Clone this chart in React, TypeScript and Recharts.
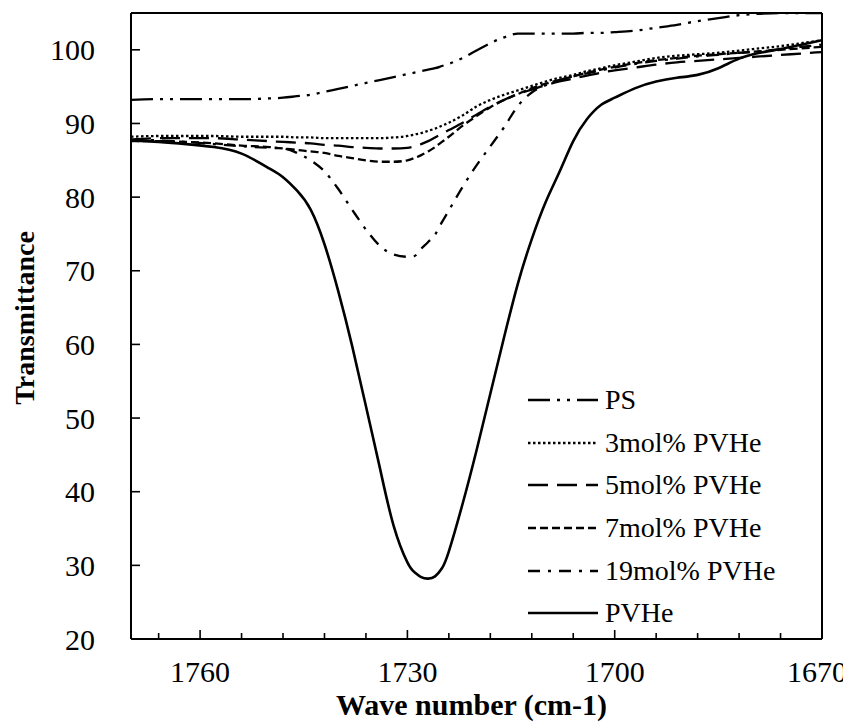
import React from "react";
import { LineChart, Line, XAxis, YAxis, ReferenceLine, Legend, Label } from "recharts";

const waveNumbers = [1770, 1766, 1762, 1758, 1754, 1750, 1748, 1746, 1744, 1742, 1740, 1738, 1736, 1734, 1732, 1730, 1729, 1728, 1727, 1726, 1725, 1724, 1722, 1720, 1718, 1716, 1714, 1712, 1710, 1708, 1706, 1704, 1702, 1700, 1697, 1694, 1691, 1688, 1685, 1682, 1679, 1676, 1673, 1670];

const psValues = [93.2, 93.3, 93.3, 93.3, 93.3, 93.4, 93.5, 93.7, 93.9, 94.3, 94.7, 95.1, 95.5, 95.9, 96.3, 96.7, 96.9, 97.1, 97.3, 97.5, 97.8, 98.1, 98.9, 99.9, 100.9, 101.7, 102.2, 102.2, 102.2, 102.2, 102.2, 102.3, 102.3, 102.4, 102.6, 103.0, 103.4, 103.9, 104.3, 104.7, 104.9, 105, 105, 105];
const mol3Values = [88.2, 88.3, 88.3, 88.3, 88.2, 88.2, 88.2, 88.1, 88.1, 88.0, 88.0, 88.0, 88.0, 88.0, 88.1, 88.3, 88.5, 88.7, 89.0, 89.3, 89.7, 90.1, 91.1, 92.3, 93.2, 93.9, 94.5, 95.1, 95.7, 96.2, 96.6, 97.1, 97.5, 97.9, 98.4, 98.9, 99.2, 99.4, 99.6, 99.9, 100.2, 100.5, 100.9, 101.3];
const mol5Values = [87.8, 88.0, 88.0, 88.0, 87.8, 87.6, 87.5, 87.4, 87.3, 87.1, 87.0, 86.8, 86.7, 86.6, 86.6, 86.7, 86.9, 87.2, 87.6, 88.1, 88.6, 89.1, 90.1, 91.2, 92.3, 93.2, 94.0, 94.6, 95.2, 95.7, 96.1, 96.5, 96.9, 97.2, 97.6, 98.0, 98.3, 98.5, 98.7, 98.9, 99.1, 99.3, 99.5, 99.7];
const mol7Values = [87.6, 87.6, 87.5, 87.3, 87.0, 86.8, 86.6, 86.4, 86.2, 86.0, 85.6, 85.3, 85.0, 84.8, 84.8, 85.0, 85.3, 85.7, 86.2, 86.8, 87.5, 88.2, 89.7, 91.0, 92.2, 93.2, 94.0, 94.8, 95.4, 95.9, 96.4, 96.9, 97.3, 97.7, 98.2, 98.6, 98.9, 99.2, 99.4, 99.6, 99.8, 100.0, 100.2, 100.4];
const mol19Values = [87.8, 87.7, 87.5, 87.2, 86.9, 86.7, 86.6, 86.0, 85.0, 83.5, 81.1, 78.3, 75.6, 73.4, 72.2, 71.9, 72.0, 73.0, 73.9, 74.9, 76.6, 78.2, 81.4, 84.3, 86.9, 89.5, 92.4, 94.2, 95.2, 95.9, 96.4, 96.8, 97.2, 97.6, 98.1, 98.5, 98.8, 99.1, 99.3, 99.6, 99.8, 100.1, 100.4, 100.7];
const pvheValues = [87.7, 87.5, 87.2, 86.8, 85.9, 83.9, 82.7, 80.9, 78.3, 73.6, 67.2, 59.8, 51.6, 43.3, 35.4, 30.4, 29.1, 28.4, 28.2, 28.5, 29.6, 31.9, 38.4, 45.6, 53.3, 61.0, 68.3, 74.3, 79.3, 83.4, 87.6, 90.6, 92.5, 93.5, 94.8, 95.7, 96.2, 96.6, 97.5, 98.8, 99.6, 100.1, 100.7, 101.3];

const seriesNames = ["PS", "3mol% PVHe", "5mol% PVHe", "7mol% PVHe", "19mol% PVHe", "PVHe"];
const seriesKeys = ["ps", "mol3", "mol5", "mol7", "mol19", "pvhe"];
const seriesValues = [psValues, mol3Values, mol5Values, mol7Values, mol19Values, pvheValues];

const xTicks = [1766, 1760, 1754, 1748, 1742, 1736, 1730, 1724, 1718, 1712, 1706, 1700, 1694, 1688, 1682, 1676, 1670];
const yTicks = [20, 30, 40, 50, 60, 70, 80, 90, 100];

const dashStyles = ["22 7 3 7 3 7", "2.5 2.5", "20 9", "8 4", "12 8 3 8", undefined];
const widths = [2.3, 2.3, 2.3, 2.3, 2.3, 2.6];
const curveTypes: any[] = ["monotone", "monotone", "monotone", "monotone", "monotone", "natural"];

const data = waveNumbers.map((wn, i) => {
  const row: any = { wn };
  seriesKeys.forEach((k, s) => (row[k] = seriesValues[s][i]));
  return row;
});

const FONT = "'Liberation Serif', 'Times New Roman', serif";
const X_MARGIN = 22;
const Y_MARGIN = 36;

const XTick = (props: any) => {
  const { x, y, payload } = props;
  const v = payload.value;
  const axisY = y - X_MARGIN;
  const major = (v - 1670) % 30 === 0;
  const lx = v === 1670 ? x - 5 : x;
  return (
    <g>
      <line x1={x} x2={x} y1={axisY} y2={axisY - (major ? 9 : 6)} stroke="#000" strokeWidth={1.6} />
      {major && (
        <text x={lx} y={y} dy="0.71em" textAnchor="middle" fontFamily={FONT} fontSize={30} fill="#000">
          {v}
        </text>
      )}
    </g>
  );
};

const YTick = (props: any) => {
  const { x, y, payload } = props;
  const axisX = x + Y_MARGIN;
  return (
    <g>
      <line x1={axisX} x2={axisX + 9} y1={y} y2={y} stroke="#000" strokeWidth={1.6} />
      <text x={x} y={y} dy="0.35em" textAnchor="end" fontFamily={FONT} fontSize={30} fill="#000">
        {payload.value}
      </text>
    </g>
  );
};

const LegendContent = () => (
  <div style={{ fontFamily: FONT, fontSize: 28, color: "#000" }}>
    {seriesNames.map((name, i) => (
      <div key={name} style={{ display: "flex", alignItems: "center", height: 42.6 }}>
        <svg width={70} height={10} style={{ display: "block" }}>
          <line x1={0} x2={70} y1={5} y2={5} stroke="#000" strokeWidth={widths[i]} strokeDasharray={dashStyles[i]} />
        </svg>
        <span style={{ marginLeft: 7, whiteSpace: "nowrap", lineHeight: 1 }}>{name}</span>
      </div>
    ))}
  </div>
);

export default function App() {
  return (
    <LineChart width={843} height={716} data={data} margin={{ top: 5, right: 29, left: 23, bottom: 0 }}>
      <XAxis
        dataKey="wn"
        type="number"
        domain={[1670, 1770]}
        reversed
        ticks={xTicks}
        interval={0}
        tickSize={0}
        tickMargin={X_MARGIN}
        tickLine={false}
        tick={<XTick />}
        height={85}
        axisLine={{ stroke: "#000", strokeWidth: 2 }}
        allowDataOverflow
      >
        <Label
          content={(p: any) => {
            const vb = p.viewBox;
            return (
              <text x={vb.x + vb.width / 2 - 5} y={vb.y + vb.height - 9} textAnchor="middle" fontFamily={FONT} fontSize={30} fontWeight="bold" fill="#000">
                Wave number (cm-1)
              </text>
            );
          }}
        />
      </XAxis>
      <YAxis
        type="number"
        domain={[20, 105]}
        ticks={yTicks}
        interval={0}
        tickSize={0}
        tickMargin={Y_MARGIN}
        tickLine={false}
        tick={<YTick />}
        width={100}
        axisLine={{ stroke: "#000", strokeWidth: 2 }}
        allowDataOverflow
      >
        <Label
          content={(p: any) => {
            const vb = p.viewBox;
            const cx = 16;
            const cy = vb.y + vb.height / 2 - 8;
            return (
              <text x={cx} y={cy} dy="0.35em" transform={`rotate(-90 ${cx} ${cy})`} textAnchor="middle" fontFamily={FONT} fontSize={28} fontWeight="bold" fill="#000">
                Transmittance
              </text>
            );
          }}
        />
      </YAxis>
      <ReferenceLine y={105} stroke="#000" strokeWidth={2} />
      <ReferenceLine x={1670} stroke="#000" strokeWidth={2} />
      {seriesKeys.map((k, i) => (
        <Line
          key={k}
          dataKey={k}
          name={seriesNames[i]}
          type={curveTypes[i]}
          stroke="#000"
          strokeWidth={widths[i]}
          strokeDasharray={dashStyles[i]}
          dot={false}
          activeDot={false}
          isAnimationActive={false}
        />
      ))}
      <Legend
        layout="vertical"
        align="center"
        verticalAlign="middle"
        content={<LegendContent />}
        wrapperStyle={{ position: "absolute", left: 520, top: 371, width: 270, height: 260 }}
      />
    </LineChart>
  );
}
